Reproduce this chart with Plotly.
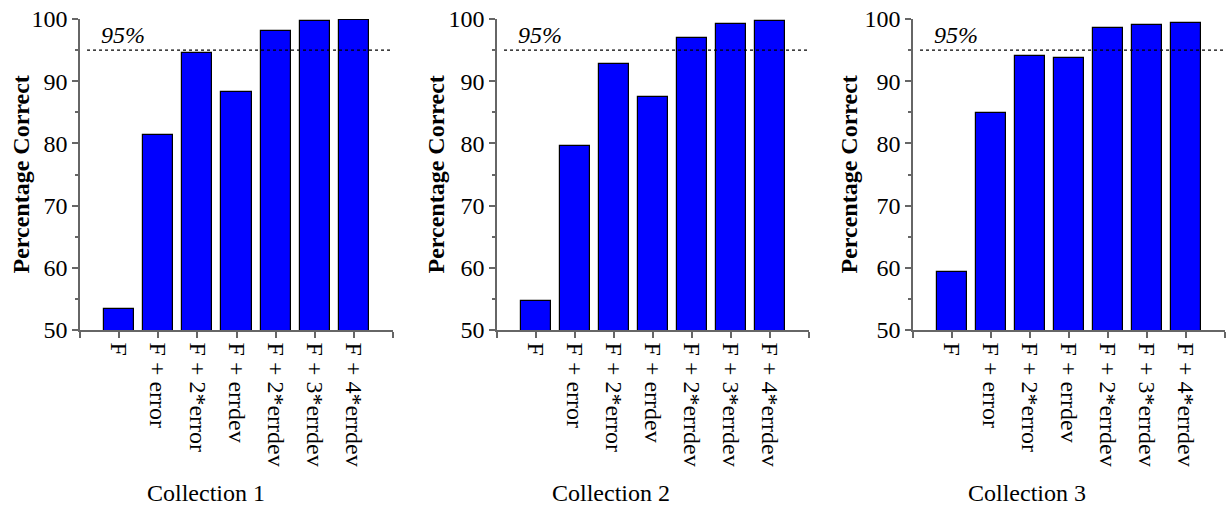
import plotly.graph_objects as go
from plotly.subplots import make_subplots

# Methods compared in each collection
methods = ["F", "F + error", "F + 2*error", "F + errdev",
           "F + 2*errdev", "F + 3*errdev", "F + 4*errdev"]

# Percentage correct for each collection
collection_1 = [53.4, 81.3, 94.5, 88.3, 98.0, 99.7, 99.9]
collection_2 = [54.6, 79.6, 92.8, 87.5, 96.9, 99.2, 99.7]
collection_3 = [59.3, 84.9, 94.1, 93.7, 98.6, 99.1, 99.4]

panel_titles = ["Collection 1", "Collection 2", "Collection 3"]
threshold = 95

W, H = 1228, 514
FONT = "Liberation Serif, Times New Roman, serif"

fig = make_subplots(rows=1, cols=3)

# pixel geometry of the three plot areas
x_px = [(80, 393), (497, 809), (913, 1225)]
y_top, y_bot = 19, 330
title_x_px = [20, 435, 848]
label_x_px = [206, 611, 1027]

positions = list(range(len(methods)))
series = [collection_1, collection_2, collection_3]

for i, values in enumerate(series):
    col = i + 1
    fig.add_trace(
        go.Bar(
            x=positions, y=values, width=0.77,
            marker=dict(color="#0000FF", line=dict(color="black", width=1.2)),
            showlegend=False,
        ),
        row=1, col=col,
    )
    xa = "xaxis" if i == 0 else f"xaxis{col}"
    ya = "yaxis" if i == 0 else f"yaxis{col}"
    x0, x1 = x_px[i]
    fig.layout[xa].update(
        domain=[x0 / W, x1 / W],
        range=[-1, len(methods)],
        tickvals=list(range(-1, len(methods) + 1)),
        ticktext=[""] + methods + [""],
        tickangle=90,
        ticks="outside", ticklen=6, tickcolor="#666", tickwidth=1.5,
        showline=True, linecolor="#666", linewidth=1.5,
        showgrid=False, zeroline=False, automargin=False,
        tickfont=dict(family=FONT, size=24, color="black"),
    )
    fig.layout[ya].update(
        domain=[(H - y_bot) / H, (H - y_top) / H],
        range=[50, 100],
        tickvals=[50, 60, 70, 80, 90, 100],
        ticks="outside", ticklen=6, tickcolor="#666", tickwidth=1.5,
        minor=dict(ticks="outside", ticklen=3, tickcolor="#666",
                   tickvals=[55, 65, 75, 85, 95]),
        showline=True, linecolor="#666", linewidth=1.5,
        showgrid=False, zeroline=False, automargin=False,
        tickfont=dict(family=FONT, size=24, color="black"),
    )
    xref = "x" if i == 0 else f"x{col}"
    yref = "y" if i == 0 else f"y{col}"
    # 95% reference line
    fig.add_shape(
        type="line", xref=xref, yref=yref,
        x0=-0.82, x1=len(methods), y0=threshold, y1=threshold,
        line=dict(color="black", width=1.2, dash="dot"),
    )
    fig.add_annotation(
        xref=xref, yref=yref, x=0.1, y=97.45,
        text=f"<i>{threshold}%</i>", showarrow=False,
        xanchor="center", yanchor="middle",
        font=dict(family=FONT, size=24, color="black"),
    )
    # y axis title
    fig.add_annotation(
        xref="paper", yref="paper",
        x=title_x_px[i] / W, y=(H - (y_top + y_bot) / 2) / H,
        text="<b>Percentage Correct</b>", textangle=-90, showarrow=False,
        xanchor="center", yanchor="middle",
        font=dict(family=FONT, size=24, color="black"),
    )
    # collection label below each panel
    fig.add_annotation(
        xref="paper", yref="paper",
        x=label_x_px[i] / W, y=(H - 493) / H,
        text=panel_titles[i], showarrow=False,
        xanchor="center", yanchor="middle",
        font=dict(family=FONT, size=24, color="black"),
    )

fig.update_layout(
    width=W, height=H,
    margin=dict(l=0, r=0, t=0, b=0),
    paper_bgcolor="white", plot_bgcolor="white",
    bargap=0,
)

fig.write_html("out.html")
